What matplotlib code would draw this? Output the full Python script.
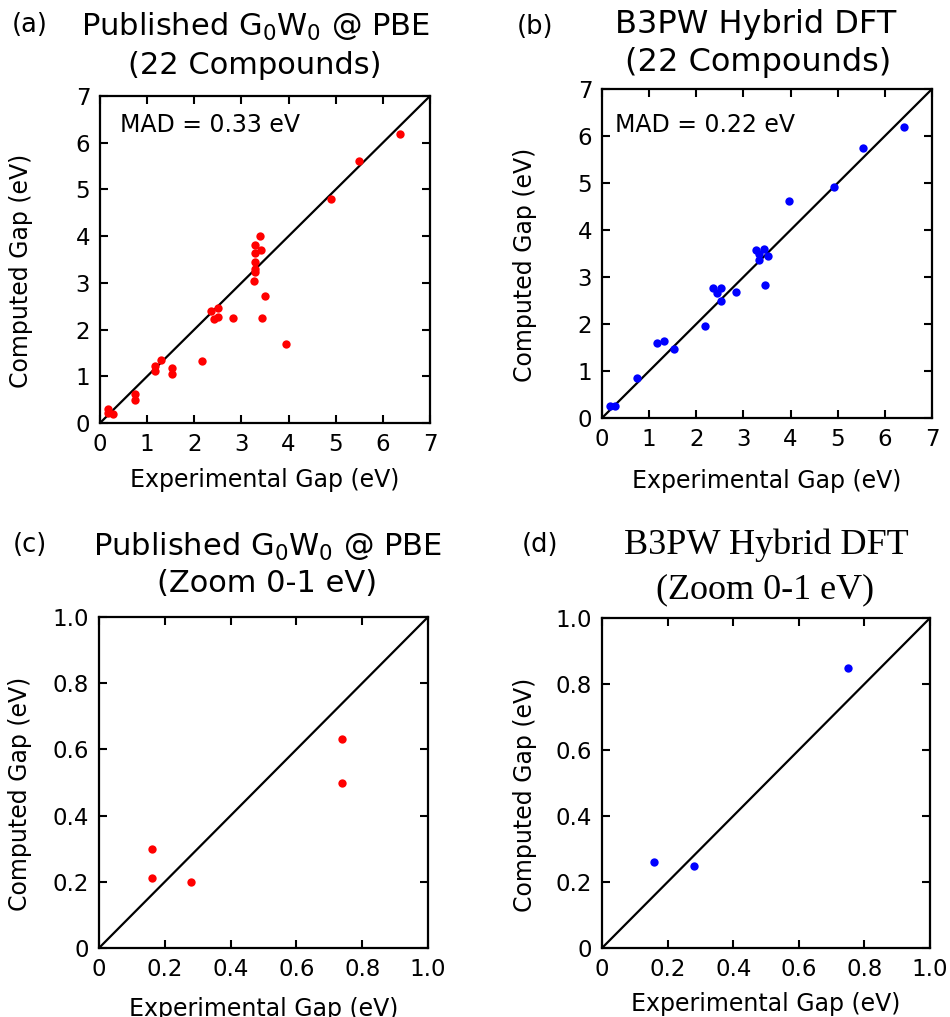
import matplotlib
matplotlib.use("Agg")
import matplotlib.pyplot as plt
from matplotlib.ticker import FuncFormatter

# ---- data ----
gw_exp = [0.16, 0.16, 0.28, 0.74, 0.74, 1.17, 1.17, 1.29, 1.52, 1.52, 2.17,
          2.35, 2.42, 2.51, 2.51, 2.82, 3.26, 3.29, 3.29, 3.29, 3.29, 3.29,
          3.41, 3.39, 3.44, 3.51, 3.94, 4.90, 5.49, 6.36]
gw_calc = [0.30, 0.21, 0.20, 0.63, 0.50, 1.21, 1.12, 1.35, 1.18, 1.05, 1.32,
           2.39, 2.22, 2.46, 2.27, 2.25, 3.05, 3.30, 3.24, 3.44, 3.64, 3.81,
           3.70, 4.01, 2.25, 2.72, 1.70, 4.79, 5.60, 6.19]
hyb_exp = [0.16, 0.28, 0.75, 1.17, 1.31, 1.53, 2.18, 2.36, 2.52, 2.44, 2.52,
           2.84, 3.27, 3.33, 3.33, 3.43, 3.52, 3.46, 3.96, 4.93, 5.53, 6.40]
hyb_calc = [0.26, 0.25, 0.85, 1.60, 1.63, 1.47, 1.96, 2.77, 2.77, 2.66, 2.48,
            2.69, 3.58, 3.48, 3.37, 3.60, 3.44, 2.82, 4.62, 4.92, 5.74, 6.19]
full_ticks = [0, 1, 2, 3, 4, 5, 6, 7]
zoom_ticks = [0, 0.2, 0.4, 0.6, 0.8, 1.0]
mad_gw = "MAD = 0.33 eV"
mad_hyb = "MAD = 0.22 eV"

W, H = 950, 1017
plt.rcParams['font.family'] = 'DejaVu Sans'
fig = plt.figure(figsize=(W / 100, H / 100), dpi=100)

def px_axes(x0, y0, x1, y1):
    return fig.add_axes([x0 / W, 1 - y1 / H, (x1 - x0) / W, (y1 - y0) / H])

def style(ax, lim, ticks, fmt, ylab_x, xlab_y):
    ax.plot([0, lim], [0, lim], color='black', lw=1.6, zorder=1)
    ax.set_xlim(0, lim)
    ax.set_ylim(0, lim)
    ax.set_xticks(ticks)
    ax.set_yticks(ticks)
    ax.xaxis.set_major_formatter(FuncFormatter(fmt))
    ax.yaxis.set_major_formatter(FuncFormatter(fmt))
    ax.tick_params(direction='in', length=6, width=1.5, top=True, right=True,
                   labelsize=16.5, pad=7)
    for s in ax.spines.values():
        s.set_linewidth(1.6)
    ax.set_xlabel("Experimental Gap (eV)", fontsize=17)
    ax.set_ylabel("Computed Gap (eV)", fontsize=17)
    ax.yaxis.set_label_coords(ylab_x, 0.465)
    ax.xaxis.set_label_coords(0.5, xlab_y)

int_fmt = lambda v, p: "%d" % round(v)
zoom_fmt = lambda v, p: "0" if abs(v) < 1e-9 else "%.1f" % v

# (a)
axa = px_axes(100, 96, 430, 423)
axa.plot(gw_exp, gw_calc, 'o', color='red', ms=6, mec='none', zorder=3)
style(axa, 7, full_ticks, int_fmt, -0.203, -0.138)
axa.text(0.06, 0.91, mad_gw, transform=axa.transAxes, fontsize=17, va='center', ha='left')

# (b)
axb = px_axes(602, 89, 932, 418)
axb.plot(hyb_exp, hyb_calc, 'o', color='blue', ms=6, mec='none', zorder=3)
style(axb, 7, full_ticks, int_fmt, -0.197, -0.155)
axb.text(0.04, 0.89, mad_hyb, transform=axb.transAxes, fontsize=17, va='center', ha='left')

# (c)
axc = px_axes(99, 617, 428, 948)
axc.plot(gw_exp, gw_calc, 'o', color='red', ms=6, mec='none', zorder=3)
style(axc, 1.0, zoom_ticks, zoom_fmt, -0.203, -0.148)

# (d)
axd = px_axes(602, 618, 930, 948)
axd.plot(hyb_exp, hyb_calc, 'o', color='blue', ms=6, mec='none', zorder=3)
style(axd, 1.0, zoom_ticks, zoom_fmt, -0.197, -0.133)

def ftext(x, y, s, **kw):
    fig.text(x / W, 1 - y / H, s, ha='center', va='center', **kw)

# titles
ftext(255, 27, r"Published G$_0$W$_0$ @ PBE", fontsize=22)
ftext(255, 65, "(22 Compounds)", fontsize=22)
ftext(756, 24, "B3PW Hybrid DFT", fontsize=23)
ftext(758, 62, "(22 Compounds)", fontsize=23)
ftext(267, 547, r"Published G$_0$W$_0$ @ PBE", fontsize=22)
ftext(267, 583, "(Zoom 0-1 eV)", fontsize=22)
ftext(766, 545, "B3PW Hybrid DFT", fontsize=26, family='Liberation Serif')
ftext(765, 590, "(Zoom 0-1 eV)", fontsize=26, family='Liberation Serif')

# panel labels
ftext(30, 25, "(a)", fontsize=18.5)
ftext(535, 27, "(b)", fontsize=18.5)
ftext(30, 545, "(c)", fontsize=18.5)
ftext(540, 545, "(d)", fontsize=18.5)

fig.savefig("out.png", dpi=100)
